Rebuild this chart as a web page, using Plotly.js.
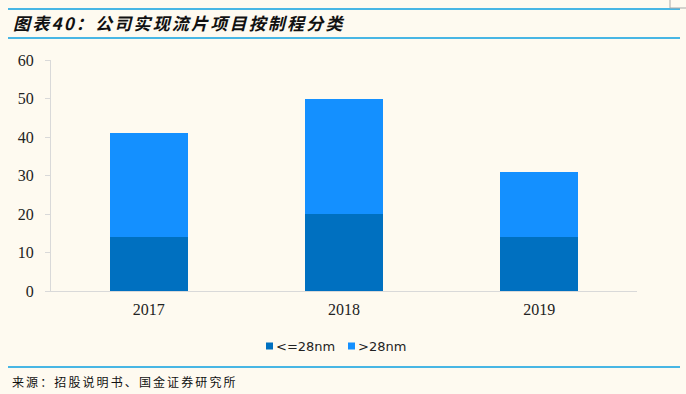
<!DOCTYPE html>
<html><head><meta charset="utf-8">
<script src="https://cdn.plot.ly/plotly-3.0.1.min.js"></script>
<style>html,body{margin:0;padding:0;background:#FEFAF0;}</style>
</head><body>
<div id="chart" style="width:686px;height:394px;"></div>
<script>
const years = ['2017', '2018', '2019'];
const below28 = [14, 20, 14];
const above28 = [27, 30, 17];
const seriesNames = ['<=28nm', '>28nm'];
const seriesColors = ['#0070C0', '#1490FF'];

const L = 51, R = 637, T = 60, B = 291;
const px = p => (p - L) / (R - L);
const py = p => (B - p) / (B - T);

const traces = [
  {type: 'bar', x: years, y: below28, name: seriesNames[0], marker: {color: seriesColors[0]}, hoverinfo: 'none', showlegend: false},
  {type: 'bar', x: years, y: above28, name: seriesNames[1], marker: {color: seriesColors[1]}, hoverinfo: 'none', showlegend: false}
];

const blue = '#0B9FE0';
const shapes = [
  {type: 'line', xref: 'paper', yref: 'paper', x0: px(8), x1: px(680), y0: py(9), y1: py(9), line: {color: blue, width: 1.5}},
  {type: 'line', xref: 'paper', yref: 'paper', x0: px(8), x1: px(680), y0: py(38), y1: py(38), line: {color: blue, width: 1.5}},
  {type: 'line', xref: 'paper', yref: 'paper', x0: px(8), x1: px(680), y0: py(367), y1: py(367), line: {color: blue, width: 1.5}},
  {type: 'line', xref: 'paper', yref: 'paper', x0: px(670), x1: px(670), y0: py(0), y1: py(8), line: {color: '#AAAAAA', width: 1}},
  {type: 'line', xref: 'paper', yref: 'paper', x0: px(670), x1: px(686), y0: py(8), y1: py(8), line: {color: '#AAAAAA', width: 1}}
];
const annotations = [
  {xref: 'paper', yref: 'paper', x: px(11), y: py(23), xanchor: 'left', yanchor: 'middle', showarrow: false,
    text: '<b><i>图表40：公司实现流片项目按制程分类</i></b>',
    font: {family: 'Noto Sans CJK SC, sans-serif', size: 17, color: '#111'}},
  {xref: 'paper', yref: 'paper', x: px(10), y: py(381), xanchor: 'left', yanchor: 'middle', showarrow: false,
    text: '来源：招股说明书、国金证券研究所',
    font: {family: 'Noto Sans CJK SC, sans-serif', size: 12, color: '#111'}}
];
// legend: small square + label for each series
const legendX = [266, 348];
seriesNames.forEach((n, i) => {
  const x0 = legendX[i];
  shapes.push({type: 'rect', xref: 'paper', yref: 'paper', x0: px(x0), x1: px(x0 + 7), y0: py(342.5), y1: py(349.5),
    fillcolor: seriesColors[i], line: {width: 0}});
  annotations.push({xref: 'paper', yref: 'paper', x: px(x0 + 8), y: py(346), xanchor: 'left', yanchor: 'middle',
    showarrow: false, text: n, font: {family: 'DejaVu Sans, sans-serif', size: 13, color: '#222'}});
});

const layout = {
  width: 686, height: 394,
  paper_bgcolor: '#FEFAF0', plot_bgcolor: '#FEFAF0',
  margin: {l: L, r: 686 - R, t: T, b: 394 - B},
  barmode: 'stack', bargap: 0.6,
  showlegend: false,
  xaxis: {showline: true, linecolor: '#D9D9D9', linewidth: 1, ticks: '', showgrid: false,
    tickfont: {family: 'Liberation Serif, serif', size: 16, color: '#222'}, ticklabelstandoff: 4},
  yaxis: {range: [0, 60], dtick: 10, showline: true, linecolor: '#D9D9D9', linewidth: 1,
    ticks: 'outside', ticklen: 5, tickcolor: '#D9D9D9', showgrid: false, zeroline: false,
    tickfont: {family: 'Liberation Serif, serif', size: 16, color: '#222'}, ticklabelstandoff: 8},
  shapes: shapes,
  annotations: annotations
};

function spaceText(t, spacing) {
  if (!t) return;
  const before = t.getBBox().x;
  t.style.letterSpacing = spacing;
  const after = t.getBBox().x;
  t.setAttribute('transform', 'translate(' + (before - after) + ',0)');
}

Plotly.newPlot('chart', traces, layout, {displayModeBar: false, staticPlot: true}).then(() => {
  const texts = document.querySelectorAll('.annotation-text');
  spaceText(texts[0], '2.2px');
  spaceText(texts[1], '2.1px');
});
</script>
</body></html>
